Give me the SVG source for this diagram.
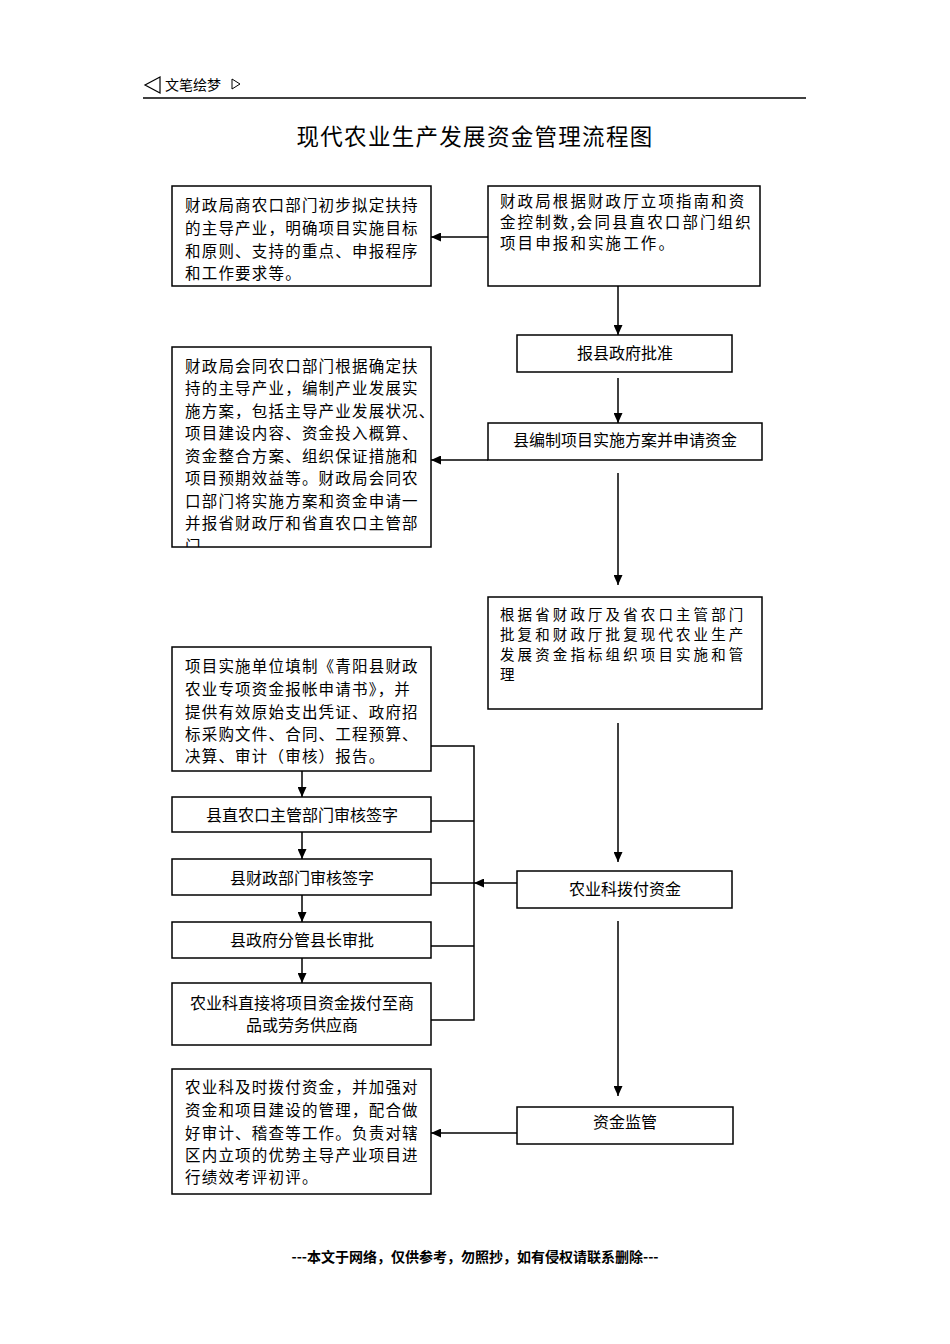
<svg xmlns="http://www.w3.org/2000/svg" width="950" height="1344" viewBox="0 0 950 1344">
<style>
text{font-family:"Noto Sans CJK SC","Noto Sans CJK JP",sans-serif;fill:#000}
.box{fill:#fff;stroke:#000;stroke-width:1.5}
.t{font-size:15.5px;letter-spacing:1.2px}
.tr{font-size:15.5px;letter-spacing:2.1px}
.tf{font-size:14.5px;letter-spacing:3.1px}
.c{font-size:16px;text-anchor:middle}
.ln{stroke:#000;stroke-width:1.5;fill:none}
.ar{stroke:#000;stroke-width:1.5;fill:none;marker-end:url(#ah)}
</style>
<defs>
<marker id="ah" markerUnits="userSpaceOnUse" markerWidth="10" markerHeight="9" refX="10" refY="4.5" orient="auto">
<path d="M0,0 L10,4.5 L0,9 z" fill="#000"/>
</marker>
<clipPath id="clipE"><rect x="172" y="347" width="259" height="200"/></clipPath>
</defs>
<rect width="950" height="1344" fill="#fff"/>
<g id="header">
<polygon points="160,77 145,85 160,93" fill="none" stroke="#000" stroke-width="1.2"/>
<text x="165" y="90" font-size="14">文笔绘梦</text>
<polygon points="232,79 240,84 232,89" fill="none" stroke="#000" stroke-width="1"/>
<line x1="143" y1="98" x2="806" y2="98" stroke="#000" stroke-width="1.3"/>
</g>
<text id="title" x="475" y="145" font-size="22.5" letter-spacing="1.3" text-anchor="middle">现代农业生产发展资金管理流程图</text>
<g id="connectors">
<line class="ar" x1="488" y1="237" x2="431" y2="237"/>
<line class="ar" x1="618" y1="286" x2="618" y2="335"/>
<line class="ar" x1="618" y1="378" x2="618" y2="423"/>
<line class="ar" x1="488" y1="460" x2="431" y2="460"/>
<line class="ar" x1="618" y1="473" x2="618" y2="585"/>
<line class="ar" x1="618" y1="723" x2="618" y2="862"/>
<line class="ar" x1="618" y1="921" x2="618" y2="1096"/>
<line class="ar" x1="517" y1="1133" x2="431" y2="1133"/>
<line class="ar" x1="302" y1="771" x2="302" y2="797"/>
<line class="ar" x1="302" y1="832" x2="302" y2="859"/>
<line class="ar" x1="302" y1="895" x2="302" y2="922"/>
<line class="ar" x1="302" y1="958" x2="302" y2="983"/>
<polyline class="ln" points="431,746 474,746 474,1020 431,1020"/>
<line class="ln" x1="431" y1="821" x2="474" y2="821"/>
<line class="ln" x1="431" y1="883" x2="474" y2="883"/>
<line class="ln" x1="431" y1="946" x2="474" y2="946"/>
<line class="ar" x1="517" y1="883" x2="474" y2="883"/>
</g>
<g id="nodeA">
<rect class="box" x="172" y="186" width="259" height="100"/>
<text class="t" x="185" y="211">财政局商农口部门初步拟定扶持</text>
<text class="t" x="185" y="234">的主导产业，明确项目实施目标</text>
<text class="t" x="185" y="257">和原则、支持的重点、申报程序</text>
<text class="t" x="185" y="279">和工作要求等。</text>
</g>
<g id="nodeB">
<rect class="box" x="488" y="186" width="272" height="100"/>
<text class="tr" x="500" y="207">财政局根据财政厅立项指南和资</text>
<text class="tr" x="500" y="228">金控制数,会同县直农口部门组织</text>
<text class="tr" x="500" y="249">项目申报和实施工作。</text>
</g>
<g id="nodeC">
<rect class="box" x="517" y="335" width="215" height="37"/>
<text class="c" x="625" y="359">报县政府批准</text>
</g>
<g id="nodeD">
<rect class="box" x="488" y="423" width="274" height="37"/>
<text class="c" x="625" y="446">县编制项目实施方案并申请资金</text>
</g>
<g id="nodeE">
<rect class="box" x="172" y="347" width="259" height="200"/>
<g clip-path="url(#clipE)">
<text class="t" x="185" y="372">财政局会同农口部门根据确定扶</text>
<text class="t" x="185" y="394">持的主导产业，编制产业发展实</text>
<text class="t" x="185" y="417">施方案，包括主导产业发展状况、</text>
<text class="t" x="185" y="439">项目建设内容、资金投入概算、</text>
<text class="t" x="185" y="462">资金整合方案、组织保证措施和</text>
<text class="t" x="185" y="484">项目预期效益等。财政局会同农</text>
<text class="t" x="185" y="507">口部门将实施方案和资金申请一</text>
<text class="t" x="185" y="529">并报省财政厅和省直农口主管部</text>
<text class="t" x="185" y="552">门</text>
</g>
</g>
<g id="nodeF">
<rect class="box" x="488" y="597" width="274" height="112"/>
<text class="tf" x="500" y="620">根据省财政厅及省农口主管部门</text>
<text class="tf" x="500" y="640">批复和财政厅批复现代农业生产</text>
<text class="tf" x="500" y="660">发展资金指标组织项目实施和管</text>
<text class="tf" x="500" y="680">理</text>
</g>
<g id="nodeG">
<rect class="box" x="517" y="871" width="215" height="37"/>
<text class="c" x="625" y="895">农业科拨付资金</text>
</g>
<g id="nodeH">
<rect class="box" x="172" y="647" width="259" height="124"/>
<text class="t" x="185" y="672">项目实施单位填制《青阳县财政</text>
<text class="t" x="185" y="695">农业专项资金报帐申请书》，并</text>
<text class="t" x="185" y="718">提供有效原始支出凭证、政府招</text>
<text class="t" x="185" y="740">标采购文件、合同、工程预算、</text>
<text class="t" x="185" y="762">决算、审计（审核）报告。</text>
</g>
<g id="nodeI">
<rect class="box" x="172" y="797" width="259" height="35"/>
<text class="c" x="302" y="821">县直农口主管部门审核签字</text>
</g>
<g id="nodeJ">
<rect class="box" x="172" y="859" width="259" height="36"/>
<text class="c" x="302" y="884">县财政部门审核签字</text>
</g>
<g id="nodeK">
<rect class="box" x="172" y="922" width="259" height="36"/>
<text class="c" x="302" y="946">县政府分管县长审批</text>
</g>
<g id="nodeL">
<rect class="box" x="172" y="983" width="259" height="62"/>
<text class="c" x="302" y="1009">农业科直接将项目资金拨付至商</text>
<text class="c" x="302" y="1031">品或劳务供应商</text>
</g>
<g id="nodeM">
<rect class="box" x="517" y="1107" width="216" height="37"/>
<text class="c" x="625" y="1128">资金监管</text>
</g>
<g id="nodeN">
<rect class="box" x="172" y="1069" width="259" height="125"/>
<text class="t" x="185" y="1093">农业科及时拨付资金，并加强对</text>
<text class="t" x="185" y="1116">资金和项目建设的管理，配合做</text>
<text class="t" x="185" y="1139">好审计、稽查等工作。负责对辖</text>
<text class="t" x="185" y="1161">区内立项的优势主导产业项目进</text>
<text class="t" x="185" y="1183">行绩效考评初评。</text>
</g>
<text id="footer" x="475" y="1262" font-size="14" font-weight="bold" text-anchor="middle">---本文于网络，仅供参考，勿照抄，如有侵权请联系删除---</text>
</svg>
